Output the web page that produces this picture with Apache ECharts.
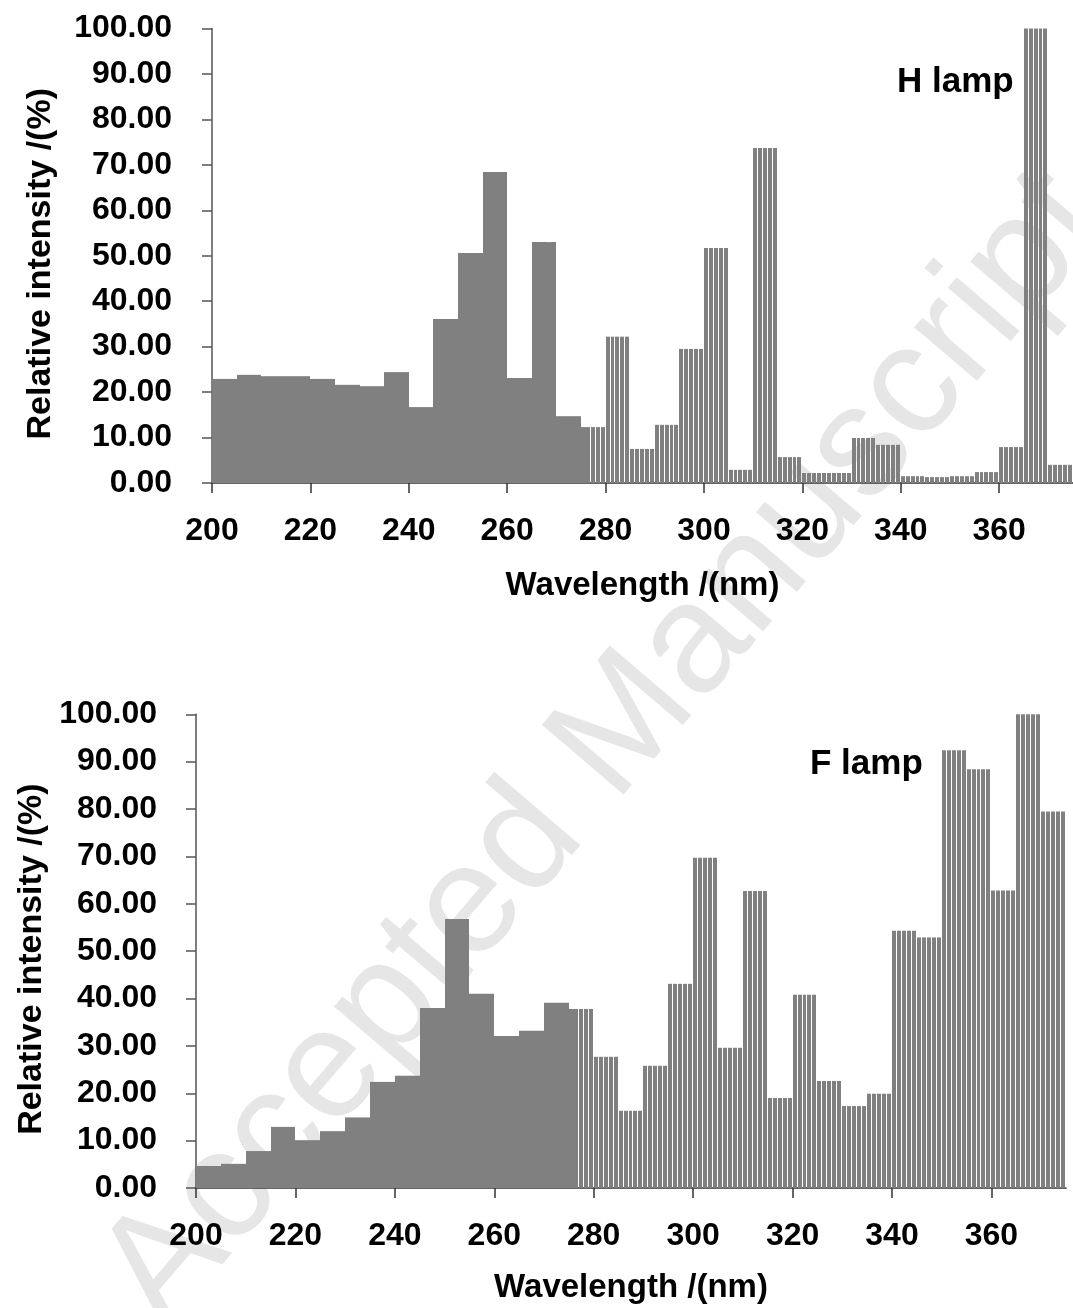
<!DOCTYPE html>
<html>
<head>
<meta charset="utf-8">
<script src="https://cdn.jsdelivr.net/npm/echarts@6/dist/echarts.min.js"></script>
<style>
html,body{margin:0;padding:0;background:#fff;}
#chart{width:1073px;height:1308px;}
</style>
</head>
<body>
<div id="chart"></div>
<script>
// ---- data (5 nm bins; value = relative intensity %) ----
const binStart = [200,205,210,215,220,225,230,235,240,245,250,255,260,265,270,275,280,285,290,295,300,305,310,315,320,325,330,335,340,345,350,355,360,365,370];
const binWidth = 5;
const hLamp = [22.9,23.8,23.5,23.5,22.9,21.6,21.3,24.4,16.7,36.1,50.6,68.4,23.1,53.0,14.7,12.3,32.2,7.5,12.8,29.5,51.7,2.9,73.7,5.7,2.2,2.2,9.9,8.4,1.5,1.3,1.5,2.4,7.9,100,4.0];
const fLamp = [4.65,5.1,7.8,12.9,10.1,12.0,14.9,22.4,23.7,38.0,56.8,41.0,32.1,33.2,39.1,37.8,27.7,16.3,25.8,43.1,69.7,29.6,62.7,19.0,40.8,22.6,17.3,19.9,54.3,52.9,92.4,88.4,62.8,100,79.5];
const xTicks = [200,220,240,260,280,300,320,340,360];
const lampLabels = ['H lamp','F lamp'];
const xName = 'Wavelength /(nm)';
const yName = 'Relative intensity /(%)';

const FONT = '"Liberation Sans", Arial, sans-serif';
const BAR = '#808080';
const STRIPE_FROM = 276;

function renderBin(params, api){
  const s = api.value(0), v = api.value(1);
  const children = [];
  for (let k = 0; k < binWidth; k++){
    const nm = s + k;
    const a = api.coord([nm, v]);
    const b = api.coord([nm + 1, 0]);
    const x0 = Math.round(a[0]), x1 = Math.round(b[0]);
    const gap = nm >= STRIPE_FROM ? 1 : 0;
    children.push({type:'rect', shape:{x:x0, y:a[1], width:Math.max(0, x1 - x0 - gap), height:b[1] - a[1]}, style:{fill:BAR}});
  }
  return {type:'group', children};
}

function xAxisCfg(gi, gap){
  return {
    type:'value', gridIndex:gi, min:200, max:375, interval:20,
    name:xName, nameLocation:'middle', nameGap:gap,
    nameTextStyle:{fontFamily:FONT, fontWeight:'bold', fontSize:33, color:'#000'},
    axisLine:{show:true, onZero:false, lineStyle:{color:'#333', width:1.5}},
    axisTick:{show:true, length:10, customValues:xTicks, lineStyle:{color:'#333', width:1.5}},
    axisLabel:{customValues:xTicks, margin:32, fontFamily:FONT, fontWeight:'bold', fontSize:32, color:'#000'},
    splitLine:{show:false}
  };
}
function yAxisCfg(gi, gap, margin){
  return {
    type:'value', gridIndex:gi, min:0, max:100, interval:10,
    name:yName, nameLocation:'middle', nameGap:gap, nameRotate:90,
    nameTextStyle:{fontFamily:FONT, fontWeight:'bold', fontSize:34, color:'#000', padding:[0,16,0,0]},
    axisLine:{show:true, lineStyle:{color:'#555', width:1.5}},
    axisTick:{show:true, length:10, lineStyle:{color:'#555', width:1.5}},
    axisLabel:{margin:margin, fontFamily:FONT, fontWeight:'bold', fontSize:32, color:'#000',
      formatter:v => v.toFixed(2)},
    splitLine:{show:false}
  };
}

const chart = echarts.init(document.getElementById('chart'), null, {renderer:'canvas'});
chart.setOption({
  backgroundColor:'#fff',
  animation:false,
  grid:[
    {left:212, top:28.5, width:868, height:454.5},
    {left:196, top:714.3, width:870, height:473.7}
  ],
  xAxis:[xAxisCfg(0, 86), xAxisCfg(1, 83)],
  yAxis:[yAxisCfg(0, 154, 40), yAxisCfg(1, 147, 39)],
  series:[
    {type:'custom', xAxisIndex:0, yAxisIndex:0, renderItem:renderBin, clip:false, z:2,
      data:binStart.map((s,i)=>[s, hLamp[i]])},
    {type:'custom', xAxisIndex:1, yAxisIndex:1, renderItem:renderBin, clip:false, z:2,
      data:binStart.map((s,i)=>[s, fLamp[i]])}
  ],
  graphic:[
    {type:'text', z:-10, x:605, y:750, rotation:49.5*Math.PI/180,
      style:{text:'Accepted Manuscript', font:'156px "Liberation Sans", Arial, sans-serif', fill:'#e6e6e6', align:'center', verticalAlign:'middle'}},
    {type:'text', z:10, x:897, y:82,
      style:{text:lampLabels[0], font:'bold 35px "Liberation Sans", Arial, sans-serif', fill:'#000', align:'left', verticalAlign:'middle'}},
    {type:'text', z:10, x:810, y:764,
      style:{text:lampLabels[1], font:'bold 35px "Liberation Sans", Arial, sans-serif', fill:'#000', align:'left', verticalAlign:'middle'}}
  ]
});
</script>
</body>
</html>
